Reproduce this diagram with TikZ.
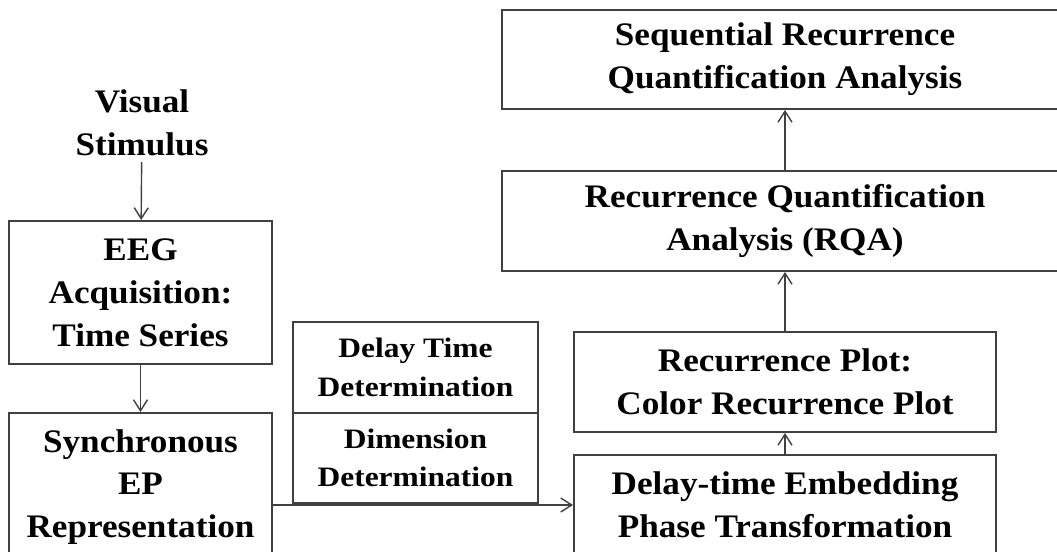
\documentclass[tikz,border=0pt]{standalone}
\usepackage{fontspec}
\setmainfont{Liberation Serif}
\newfontfamily\boxfont{Liberation Serif}[FakeStretch=1.07]
\newfontfamily\cellfont{Liberation Serif}[FakeStretch=1.12]
\usetikzlibrary{positioning, arrows.meta}

\begin{document}
\begin{tikzpicture}[
  box/.style={draw=black!75, line width=1.1pt, align=center, inner sep=0pt,
    font=\boxfont\bfseries\fontsize{18.7}{24.4}\selectfont},
  cell/.style={draw=black!75, line width=1.1pt, align=center, inner sep=0pt,
    minimum width=4.9cm, minimum height=1.81cm,
    font=\cellfont\bfseries\fontsize{16}{22}\selectfont},
  flow/.style={draw=black!75, line width=0.8pt, -{Straight Barb[length=2.2mm,width=2.8mm]}}
]

\useasboundingbox (0,0) rectangle (21.14, 11.04);
\clip (0,0) rectangle (21.14, 11.04);

% left column
\node[font=\boxfont\bfseries\fontsize{18.7}{24.4}\selectfont, align=center] (stim) at (2.84, 8.58) {Visual\\Stimulus};
\node[box, minimum width=5.26cm, minimum height=2.86cm] (eeg) at (2.81, 5.19) {EEG\\Acquisition:\\Time Series};
\node[box, minimum width=5.26cm, minimum height=2.96cm] (sync) at (2.81, 1.3) {Synchronous\\EP\\Representation};

% parameters
\node[cell] (dly) at (8.31, 3.69) {Delay Time\\Determination};
\node[cell, below=-1.1pt of dly] (dim) {Dimension\\Determination};

% right column
\node[box, minimum width=8.44cm, minimum height=2cm] (emb) at (15.7, 0.94) {Delay-time Embedding\\Phase Transformation};
\node[box, minimum width=8.44cm, minimum height=2cm] (rp) at (15.7, 3.4) {Recurrence Plot:\\Color Recurrence Plot};
\node[box, minimum width=11.32cm, minimum height=2cm] (rqa) at (15.7, 6.62) {Recurrence Quantification\\Analysis (RQA)};
\node[box, minimum width=11.32cm, minimum height=1.98cm] (seq) at (15.7, 9.85) {Sequential Recurrence\\Quantification Analysis};

\draw[flow] (stim) -- (eeg);
\draw[flow] (eeg) -- (sync);
\draw[flow] (sync.east |- emb.west) -- (emb.west);
\draw[flow] (emb) -- (rp);
\draw[flow] (rp) -- (rqa);
\draw[flow] (rqa) -- (seq);

\end{tikzpicture}
\end{document}
